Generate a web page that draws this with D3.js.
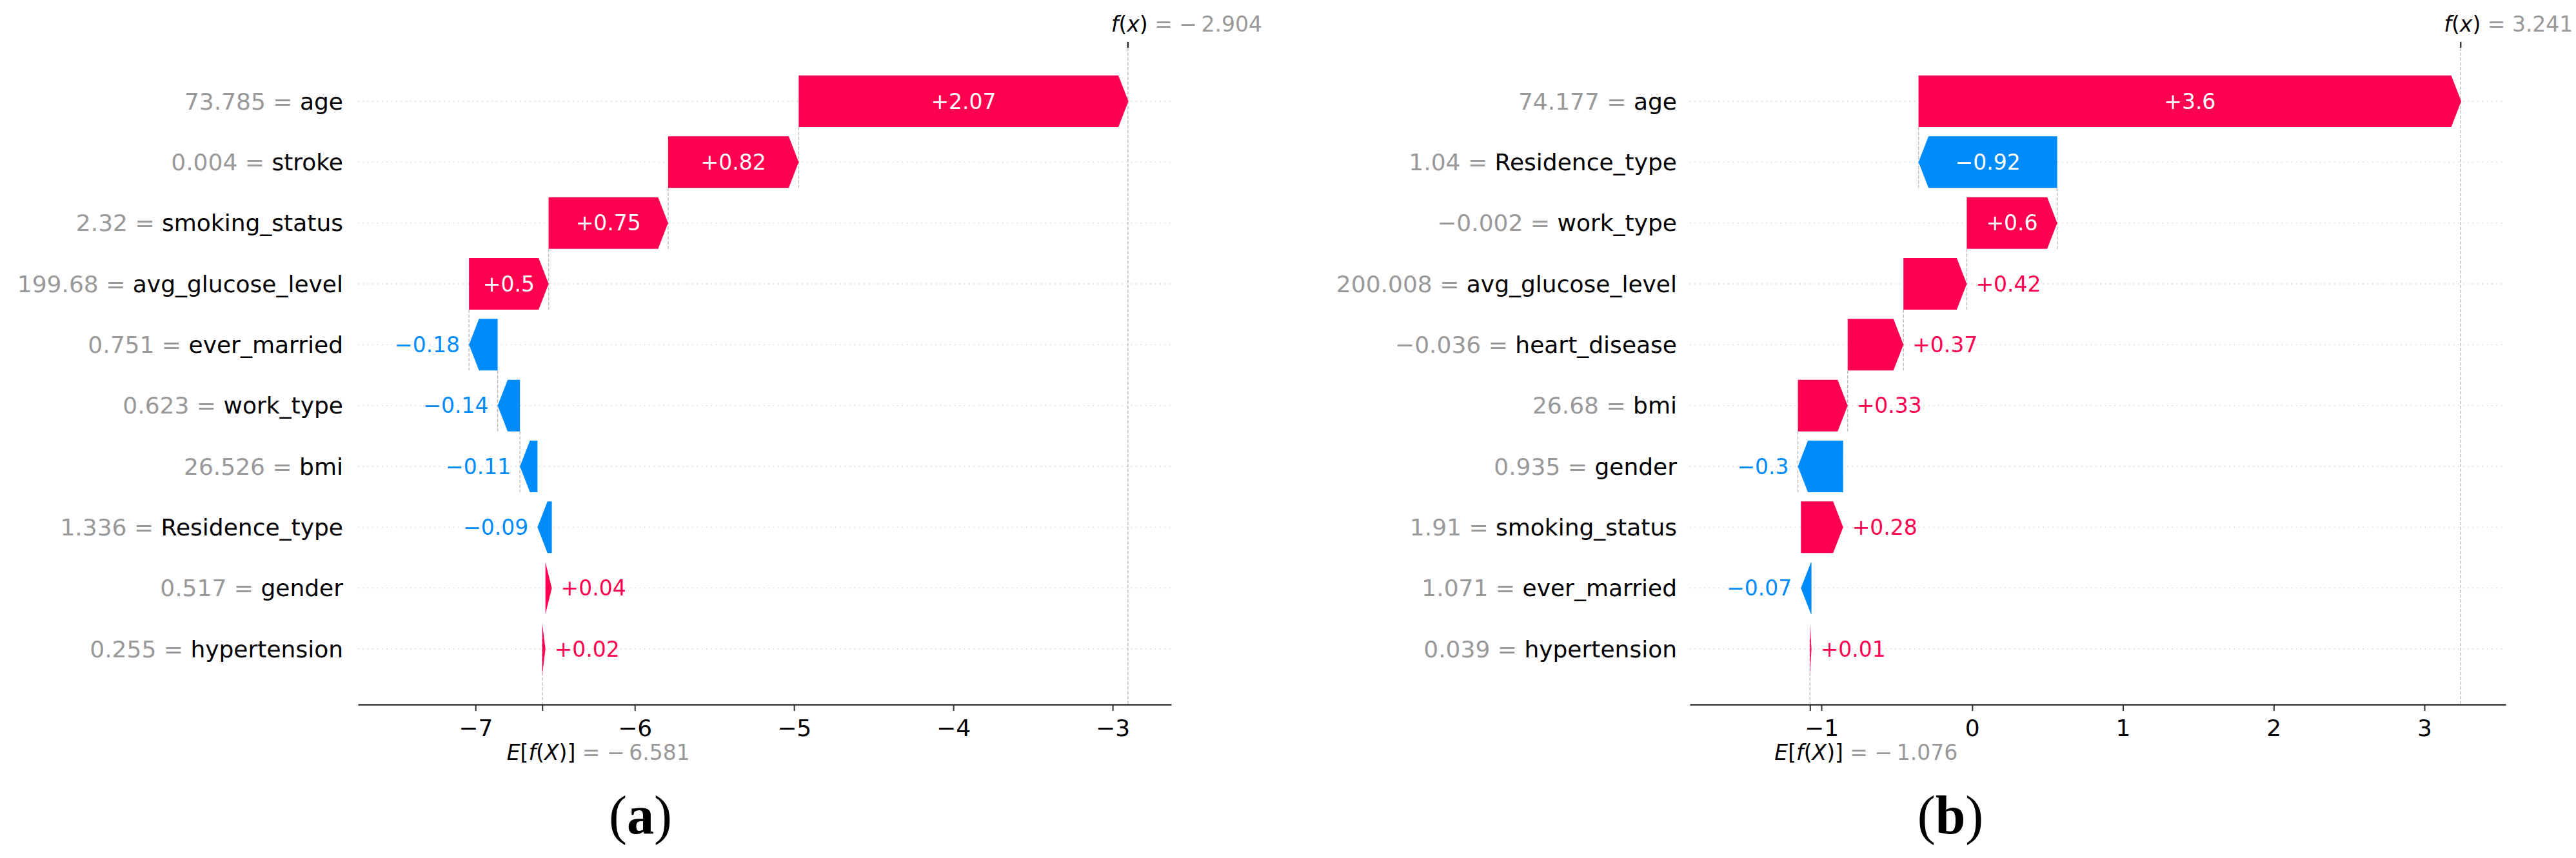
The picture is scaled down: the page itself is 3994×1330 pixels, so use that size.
<!DOCTYPE html>
<html>
<head>
<meta charset="utf-8">
<script src="https://cdn.jsdelivr.net/npm/d3@7"></script>
<style>
  body { margin: 0; background: #fff; }
  svg { display: block; font-family: "DejaVu Sans", sans-serif; }
</style>
</head>
<body>
<script>
const w = 3994;
const h = 1330;

// panel (a)
const featuresA = ["age", "stroke", "smoking_status", "avg_glucose_level", "ever_married",
  "work_type", "bmi", "Residence_type", "gender", "hypertension"];
const featureValuesA = [73.785, 0.004, 2.32, 199.68, 0.751, 0.623, 26.526, 1.336, 0.517, 0.255];
const shapA = [2.07, 0.82, 0.75, 0.5, -0.18, -0.14, -0.11, -0.09, 0.04, 0.02];
const baseA = -6.581;
const fxA = -2.904;
const ticksA = [-7, -6, -5, -4, -3];
const xDomainA = [-7.738, -2.632];

// panel (b)
const featuresB = ["age", "Residence_type", "work_type", "avg_glucose_level", "heart_disease",
  "bmi", "gender", "smoking_status", "ever_married", "hypertension"];
const featureValuesB = [74.177, 1.04, -0.002, 200.008, -0.036, 26.68, 0.935, 1.91, 1.071, 0.039];
const shapB = [3.6, -0.92, 0.6, 0.42, 0.37, 0.33, -0.3, 0.28, -0.07, 0.01];
const baseB = -1.076;
const fxB = 3.241;
const ticksB = [-1, 0, 1, 2, 3];
const xDomainB = [-1.873, 3.539];

const red = "#ff0051";
const blue = "#008bfb";
const rowTop = 157;
const rowBottom = 1006;
const plotTop = 74;
const axisY = 1092;
const barH = 80;
const headLen = 15.5;

const minus = (s) => s.replace("-", "\u2212");

const svg = d3.select("body").append("svg").attr("width", w).attr("height", h);
svg.append("rect").attr("width", w).attr("height", h).attr("fill", "#fff");

function arrowPoints(x0, x1, yc) {
  const dir = x1 >= x0 ? 1 : -1;
  const hl = Math.min(headLen, Math.abs(x1 - x0));
  const xn = x1 - dir * hl;
  const t = yc - barH / 2, b = yc + barH / 2;
  return [[x0, t], [xn, t], [x1, yc], [xn, b], [x0, b]];
}

function drawPanel(p) {
  const n = p.features.length;
  const x = d3.scaleLinear().domain(p.domain).range(p.range);
  const y = d3.scaleLinear().domain([0, n - 1]).range([rowTop, rowBottom]);
  const g = svg.append("g");

  // cumulative start / end of every arrow, built up from the base value
  const starts = [], ends = [];
  let pos = p.base;
  for (let i = n - 1; i >= 0; i--) {
    starts[i] = pos;
    ends[i] = pos + p.shap[i];
    pos = ends[i];
  }

  // dotted row lines
  g.selectAll(".row").data(p.features).join("line")
    .attr("x1", p.range[0]).attr("x2", p.range[1])
    .attr("y1", (d, i) => y(i)).attr("y2", (d, i) => y(i))
    .attr("stroke", "#cccccc").attr("stroke-width", 1.4)
    .attr("stroke-dasharray", "1.4,6");

  const dashed = (sel) => sel.attr("stroke", "#bbbbbb").attr("stroke-width", 1.4)
    .attr("stroke-dasharray", "5,2.5");

  // f(x) and E[f(X)] reference lines
  g.append("line").attr("x1", x(p.fx)).attr("x2", x(p.fx))
    .attr("y1", plotTop).attr("y2", axisY).call(dashed);
  g.append("line").attr("x1", x(p.base)).attr("x2", x(p.base))
    .attr("y1", axisY - (axisY - plotTop) / n).attr("y2", axisY).call(dashed);

  // connectors between consecutive arrows
  for (let i = 0; i + 4 < n; i++) {
    g.append("line").attr("x1", x(starts[i])).attr("x2", x(starts[i]))
      .attr("y1", y(i) + barH / 2).attr("y2", y(i + 1) + barH / 2).call(dashed);
  }

  // arrows
  g.selectAll(".arrow").data(p.shap).join("polygon")
    .attr("points", (d, i) => arrowPoints(x(starts[i]), x(ends[i]), y(i)).join(" "))
    .attr("fill", (d) => (d >= 0 ? red : blue));

  // arrow labels: white inside when they fit, coloured beside the tip otherwise
  p.shap.forEach((v, i) => {
    const txt = (v >= 0 ? "+" : "\u2212") + Math.abs(v);
    const t = g.append("text").attr("font-size", 33).attr("dy", "0.35em").text(txt);
    const len = t.node().getComputedTextLength();
    const x0 = x(starts[i]), x1 = x(ends[i]);
    if (len + 10 < Math.abs(x1 - x0)) {
      t.attr("x", (x0 + x1) / 2).attr("y", y(i))
        .attr("text-anchor", "middle").attr("fill", "#fff");
    } else {
      t.attr("x", v >= 0 ? x1 + 14 : x1 - 14).attr("y", y(i))
        .attr("text-anchor", v >= 0 ? "start" : "end")
        .attr("fill", v >= 0 ? red : blue);
    }
  });

  // feature labels "value = name"
  const lab = g.selectAll(".lab").data(p.features).join("text")
    .attr("x", p.labelX).attr("y", (d, i) => y(i)).attr("dy", "0.35em")
    .attr("text-anchor", "end").attr("font-size", 36);
  lab.append("tspan").attr("fill", "#999999")
    .text((d, i) => minus(String(p.values[i])) + " = ");
  lab.append("tspan").attr("fill", "#000").text((d) => d);

  // bottom axis
  const ax = g.append("g").attr("transform", `translate(0,${axisY})`)
    .call(d3.axisBottom(x)
      .tickValues(p.ticks.concat([p.base]))
      .tickFormat((d) => (d === p.base ? "" : d3.format("d")(d)))
      .tickSize(10).tickPadding(13).tickSizeOuter(0));
  ax.attr("font-family", null);
  ax.select(".domain").attr("stroke", "#333").attr("stroke-width", 2.4);
  ax.selectAll(".tick line").attr("stroke", "#333").attr("stroke-width", 2);
  ax.selectAll(".tick text").attr("font-size", 36).attr("fill", "#000");

  // top tick at f(x)
  g.append("line").attr("x1", x(p.fx)).attr("x2", x(p.fx))
    .attr("y1", plotTop - 9).attr("y2", plotTop)
    .attr("stroke", "#000").attr("stroke-width", 2);

  const fxText = g.append("text").attr("x", x(p.fx) - 26).attr("y", 49)
    .attr("font-size", 33).attr("fill", "#000");
  fxText.append("tspan").attr("font-style", "italic").text("f");
  fxText.append("tspan").text("(");
  fxText.append("tspan").attr("font-style", "italic").text("x");
  fxText.append("tspan").text(")");
  fxText.append("tspan").attr("fill", "#999999")
    .text(" = " + (p.fx < 0 ? "\u2212\u2009" : "") + Math.abs(p.fx).toFixed(3));

  const eText = g.append("text").attr("x", x(p.base) - 55).attr("y", 1178)
    .attr("font-size", 33).attr("fill", "#000");
  eText.append("tspan").attr("font-style", "italic").text("E");
  eText.append("tspan").text("[");
  eText.append("tspan").attr("font-style", "italic").text("f");
  eText.append("tspan").text("(");
  eText.append("tspan").attr("font-style", "italic").text("X");
  eText.append("tspan").text(")]");
  eText.append("tspan").attr("fill", "#999999")
    .text(" = " + (p.base < 0 ? "\u2212\u2009" : "") + Math.abs(p.base).toFixed(3));

  // panel caption
  const cap = svg.append("text").attr("x", p.captionX).attr("y", 1292)
    .attr("text-anchor", "middle").attr("font-size", 84)
    .attr("font-family", "'Liberation Serif', 'Times New Roman', serif").attr("fill", "#000");
  cap.append("tspan").text("(");
  cap.append("tspan").attr("font-weight", "bold").text(p.caption);
  cap.append("tspan").text(")");
}

drawPanel({
  features: featuresA, values: featureValuesA, shap: shapA, base: baseA, fx: fxA,
  ticks: ticksA, domain: xDomainA, range: [555, 1816], labelX: 532,
  caption: "a", captionX: 993
});

drawPanel({
  features: featuresB, values: featureValuesB, shap: shapB, base: baseB, fx: fxB,
  ticks: ticksB, domain: xDomainB, range: [2620, 3885], labelX: 2600,
  caption: "b", captionX: 3024
});
</script>
</body>
</html>
